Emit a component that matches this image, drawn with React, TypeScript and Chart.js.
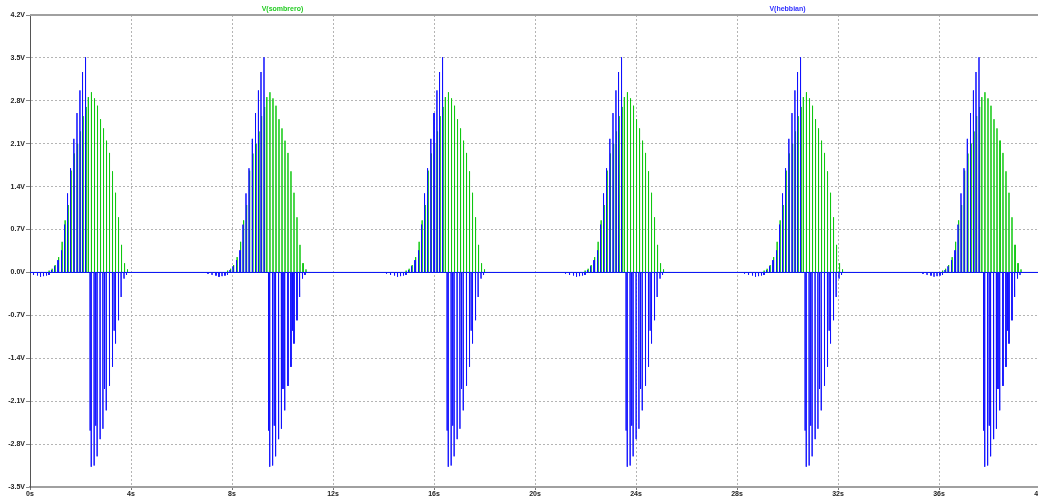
import React, { useEffect, useRef } from 'react';
import { Chart, registerables } from 'chart.js';

Chart.register(...registerables);

// ---- axis ticks ----
const xTicks = [0, 4, 8, 12, 16, 20, 24, 28, 32, 36, 40];
const yTicks = [-3.5, -2.8, -2.1, -1.4, -0.7, 0, 0.7, 1.4, 2.1, 2.8, 3.5, 4.2];

// ---- series names ----
const seriesNames = ['V(hebbian)', 'V(sombrero)'];

// ---- times (s) of the tallest V(hebbian) spike in each burst ----
const burstPeakTimes = [2.198, 9.267, 16.337, 23.426, 30.515, 37.584];

// ---- V(hebbian): spike offsets (s, relative to burst peak) and values (V) ----
const hebbianDipOffsets = [-2.218, -2.059, -1.901, -1.782, -1.663, -1.545, -1.446];
const hebbianDipValues = [-0.02, -0.04, -0.05, -0.07, -0.06, -0.05, -0.04];

const hebbianPosOffsets = [-1.347, -1.228, -1.089, -0.95, -0.832, -0.713, -0.594, -0.463, -0.337, -0.222, -0.119, 0];
const hebbianPosValues = [0.04, 0.1, 0.2, 0.36, 0.78, 1.29, 1.7, 2.18, 2.6, 2.97, 3.27, 3.51];

const hebbianNegOffsets = [0.182, 0.226, 0.341, 0.404, 0.459, 0.578, 0.689, 0.752, 0.82, 0.95, 1.069, 1.133, 1.188, 1.307, 1.41, 1.525, 1.624];
const hebbianNegValues = [-2.58, -3.17, -3.15, -2.5, -3.0, -2.72, -2.55, -1.9, -2.25, -1.85, -1.54, -0.95, -1.16, -0.78, -0.4, -0.1, -0.04];

// ---- V(sombrero): spike offsets (s, relative to burst peak) and values (V) ----
const sombreroOffsets = [-1.442, -1.323, -1.204, -1.065, -0.927, -0.808, -0.689, -0.57, -0.44, -0.313, -0.198, -0.095, 0.024, 0.111, 0.234, 0.356, 0.475, 0.594, 0.713, 0.832, 0.95, 1.069, 1.188, 1.307, 1.426, 1.545, 1.663];
const sombreroValues = [0.03, 0.06, 0.12, 0.25, 0.5, 0.85, 1.1, 1.66, 1.94, 2.1, 2.3, 2.55, 2.7, 2.86, 2.94, 2.84, 2.72, 2.5, 2.35, 2.15, 1.95, 1.65, 1.3, 0.9, 0.45, 0.15, 0.05];

const SPIKE_HALF = 0.003;

function buildSeries(groups: Array<[number[], number[]]>) {
  const spikes: Array<[number, number]> = [];
  for (const b of burstPeakTimes) {
    for (const [offs, vals] of groups) {
      for (let i = 0; i < offs.length; i++) spikes.push([b + offs[i], vals[i]]);
    }
  }
  spikes.sort((a, b) => a[0] - b[0]);
  const pts: Array<{ x: number; y: number }> = [{ x: xTicks[0], y: 0 }];
  for (const [t, v] of spikes) {
    pts.push({ x: t - SPIKE_HALF, y: 0 }, { x: t, y: v }, { x: t + SPIKE_HALF, y: 0 });
  }
  pts.push({ x: xTicks[xTicks.length - 1], y: 0 });
  return pts;
}

const BLUE = '#1010ff';
const GREEN = '#10c810';
const TICK_FONT = { family: '"Liberation Sans", Arial, sans-serif', size: 7, weight: 'bold' as const };

const framePlugin = {
  id: 'ltFrame',
  afterDraw(chart: any) {
    const { ctx, chartArea } = chart;
    ctx.save();
    ctx.strokeStyle = '#a0a0a0';
    ctx.lineWidth = 2;
    ctx.beginPath();
    ctx.moveTo(chartArea.left, chartArea.top);
    ctx.lineTo(chartArea.right, chartArea.top);
    ctx.stroke();
    ctx.font = 'bold 7px "Liberation Sans", Arial, sans-serif';
    ctx.textAlign = 'center';
    ctx.textBaseline = 'middle';
    const w = chartArea.right - chartArea.left;
    ctx.fillStyle = '#22cc22';
    ctx.fillText(seriesNames[1], chartArea.left + w * 0.25, 9.5);
    ctx.fillStyle = '#3030ff';
    ctx.fillText(seriesNames[0], chartArea.left + w * 0.75, 9.5);
    ctx.restore();
  },
};

export default function App() {
  const canvasRef = useRef<HTMLCanvasElement | null>(null);

  useEffect(() => {
    document.body.style.margin = '0';
    document.body.style.overflow = 'hidden';
    const canvas = canvasRef.current;
    if (!canvas) return;
    const hebbian = buildSeries([
      [hebbianDipOffsets, hebbianDipValues],
      [hebbianPosOffsets, hebbianPosValues],
      [hebbianNegOffsets, hebbianNegValues],
    ]);
    const sombrero = buildSeries([[sombreroOffsets, sombreroValues]]);

    const chart = new Chart(canvas, {
      type: 'line',
      data: {
        datasets: [
          {
            label: seriesNames[0],
            data: hebbian,
            borderColor: BLUE,
            borderWidth: 1,
            pointRadius: 0,
            tension: 0,
            fill: false,
          },
          {
            label: seriesNames[1],
            data: sombrero,
            borderColor: GREEN,
            borderWidth: 1,
            pointRadius: 0,
            tension: 0,
            fill: false,
          },
        ],
      },
      options: {
        animation: false,
        responsive: false,
        parsing: false,
        normalized: true,
        devicePixelRatio: 1,
        layout: { padding: { top: 15, right: 20, left: 0, bottom: 0 } },
        plugins: { legend: { display: false }, tooltip: { enabled: false } },
        events: [],
        scales: {
          x: {
            type: 'linear',
            min: xTicks[0],
            max: xTicks[xTicks.length - 1],
            afterBuildTicks: (axis: any) => {
              axis.ticks = xTicks.map((v) => ({ value: v }));
            },
            afterFit: (axis: any) => {
              axis.height = 14;
            },
            ticks: {
              autoSkip: false,
              maxRotation: 0,
              padding: 0,
              color: '#222',
              font: TICK_FONT,
              callback: (v: any) => `${v}s`,
            },
            grid: {
              color: '#b4b4b4',
              lineWidth: 1,
              tickLength: 3,
              tickColor: '#777',
              tickBorderDash: [],
            },
            border: { display: true, color: '#a0a0a0', width: 2, dash: [2, 2] },
          },
          y: {
            type: 'linear',
            min: yTicks[0],
            max: yTicks[yTicks.length - 1],
            afterBuildTicks: (axis: any) => {
              axis.ticks = yTicks.map((v) => ({ value: v }));
            },
            afterFit: (axis: any) => {
              axis.width = 30;
            },
            ticks: {
              autoSkip: false,
              padding: 1,
              color: '#222',
              font: TICK_FONT,
              callback: (v: any) => `${Number(v).toFixed(1)}V`,
            },
            grid: {
              color: '#b4b4b4',
              lineWidth: 1,
              tickLength: 4,
              tickColor: '#888',
              tickBorderDash: [],
            },
            border: { display: true, color: '#555', width: 1, dash: [2, 2] },
          },
        },
      },
      plugins: [framePlugin],
    });
    return () => chart.destroy();
  }, []);

  return (
    <div style={{ position: 'fixed', left: 0, top: 0, width: 1060, height: 501, background: '#fff' }}>
      <canvas ref={canvasRef} width={1060} height={501} style={{ width: 1060, height: 501, display: 'block' }} />
    </div>
  );
}
